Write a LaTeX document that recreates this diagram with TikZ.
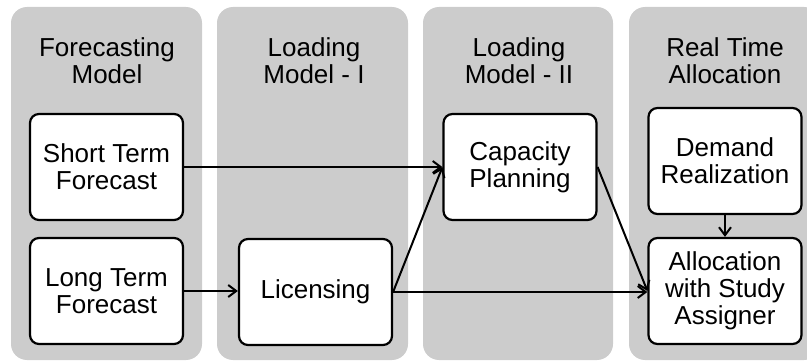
\documentclass[tikz,border=0pt]{standalone}
\usepackage{fontspec}
\setmainfont{Liberation Sans}
\usetikzlibrary{arrows.meta}
\definecolor{lanegray}{HTML}{CCCCCC}
\tikzset{
  lane/.style = {fill=lanegray, rounded corners=16pt},
  lanetitle/.style = {align=center, font=\fontsize{26}{27}\selectfont},
  box/.style = {draw, fill=white, line width=2.2pt, rounded corners=9pt,
    minimum width=153pt, minimum height=106pt, inner sep=0pt,
    align=center, font=\fontsize{26}{27}\selectfont},
  arr/.style = {line width=2pt, -{Straight Barb[length=8pt,width=12pt]}}
}
\begin{document}
\begin{tikzpicture}[x = 1pt, y = -1pt]
	\useasboundingbox (0,0) rectangle (807,361);
	\clip (0,0) rectangle (807,361);
	% lanes
	\fill[lane] (11,7) rectangle (202,360);
	\fill[lane] (217,7) rectangle (408,360);
	\fill[lane] (423,7) rectangle (613,360);
	\fill[lane] (629,7) rectangle (820,360);
	\node[lanetitle] (t1) at (107,61) {Forecasting\\Model};
	\node[lanetitle] (t2) at (314,61) {Loading\\Model - I};
	\node[lanetitle] (t3) at (519,61) {Loading\\Model - II};
	\node[lanetitle] (t4) at (725,61) {Real Time\\Allocation};
	% boxes
	\node[box] (short) at (106.5,167) {Short Term\\Forecast};
	\node[box] (long) at (106.5,291) {Long Term\\Forecast};
	\node[box] (lic) at (315.5,292) {Licensing};
	\node[box] (cap) at (520,167) {Capacity\\Planning};
	\node[box] (dem) at (725,161) {Demand\\Realization};
	\node[box] (alloc) at (725,291) {Allocation\\with Study\\Assigner};
	% arrows
	\draw[arr] (short.east) -- (cap.west);
	\draw[arr] (long.east) -- (long.east -| lic.west);
	\draw[arr] (lic.east) -- (cap.west);
	\draw[arr] (lic.east) -- (lic.east -| alloc.west);
	\draw[arr] (cap.east) -- (alloc.west);
	\draw[arr] (dem) -- (alloc);
\end{tikzpicture}
\end{document}
